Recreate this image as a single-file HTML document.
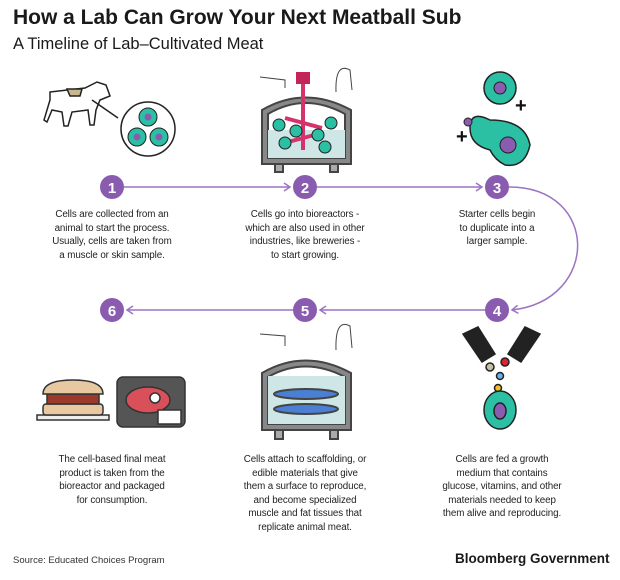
<!DOCTYPE html>
<html><head><meta charset="utf-8"><style>
body{margin:0;background:#fff;width:620px;height:580px;overflow:hidden;font-family:"Liberation Sans",sans-serif;color:#222;position:relative}
.t{position:absolute;font-size:9.8px;line-height:13.6px;text-align:center;white-space:nowrap;width:200px;letter-spacing:-0.1px}
</style></head><body>
<div style="position:absolute;left:13px;top:6px;font-size:21px;font-weight:bold;color:#1a1a1a">How a Lab Can Grow Your Next Meatball Sub</div>
<div style="position:absolute;left:13px;top:35px;font-size:16.5px;color:#1a1a1a">A Timeline of Lab–Cultivated Meat</div>
<svg width="620" height="580" style="position:absolute;left:0;top:0">
<defs><marker id="a" markerWidth="10" markerHeight="10" refX="8" refY="5" orient="auto" markerUnits="userSpaceOnUse"><path d="M2,1 L8,5 L2,9" fill="none" stroke="#9b74c4" stroke-width="1.5"/></marker></defs>
<g stroke="#9b74c4" stroke-width="1.5" fill="none">
<line x1="124" y1="187" x2="290" y2="187" marker-end="url(#a)"/>
<line x1="317" y1="187" x2="482" y2="187" marker-end="url(#a)"/>
<path d="M509,187 C600,187 600,300 512,310" marker-end="url(#a)"/>
<line x1="485" y1="310" x2="320" y2="310" marker-end="url(#a)"/>
<line x1="293" y1="310" x2="127" y2="310" marker-end="url(#a)"/>
</g>
<g fill="#8a5cb0"><circle cx="112" cy="187" r="12"/><circle cx="305" cy="187" r="12"/><circle cx="497" cy="187" r="12"/><circle cx="497" cy="310" r="12"/><circle cx="305" cy="310" r="12"/><circle cx="112" cy="310" r="12"/></g>
<g fill="#fff" font-size="15" font-weight="bold" text-anchor="middle" font-family="Liberation Sans,sans-serif">
<text x="112" y="193">1</text><text x="305" y="193">2</text><text x="497" y="193">3</text><text x="497" y="316">4</text><text x="305" y="316">5</text><text x="112" y="316">6</text></g>
<!-- cow -->
<g stroke="#222" stroke-width="1.5" fill="#fff">
<path d="M50,92 L85,88 L97,82 L106,85 L110,96 L100,100 L96,110 L94,125 L90,125 L88,110 L72,112 L68,126 L64,126 L62,112 L52,110 L47,122 L44,120 L50,100Z"/>
<path d="M67,89 L82,89 L80,96 L70,96Z" fill="#c8b890"/>
<line x1="92" y1="100" x2="118" y2="118"/>
<circle cx="148" cy="129" r="27"/></g>
<g fill="#2bbfa4" stroke="#222"><circle cx="148" cy="117" r="9"/><circle cx="137" cy="137" r="9"/><circle cx="159" cy="137" r="9"/></g>
<g fill="#8a5cb0"><circle cx="148" cy="117" r="3.5"/><circle cx="137" cy="137" r="3.5"/><circle cx="159" cy="137" r="3.5"/></g>
<!-- bioreactor 1 -->
<g stroke="#444" stroke-width="2">
<path d="M262,164 L262,110 Q305,85 351,110 L351,164Z" fill="#888"/>
<path d="M268,158 L268,114 Q305,92 345,114 L345,158Z" fill="#fff"/>
<rect x="268" y="130" width="77" height="28" fill="#cfe6e6" stroke="none"/>
<rect x="275" y="164" width="8" height="8" fill="#aaa"/><rect x="330" y="164" width="8" height="8" fill="#aaa"/>
<path d="M260,77 L285,80 L285,88 M336,92 Q335,62 350,70 L352,90" fill="none" stroke-width="1"/>
</g>
<rect x="296" y="72" width="14" height="12" fill="#c2255c"/>
<g stroke="#d6336c" stroke-width="4"><line x1="303" y1="84" x2="303" y2="150"/><line x1="285" y1="118" x2="322" y2="128"/><line x1="288" y1="142" x2="318" y2="134"/></g>
<g fill="#2bbfa4" stroke="#222"><circle cx="279" cy="125" r="6"/><circle cx="296" cy="131" r="6"/><circle cx="285" cy="143" r="6"/><circle cx="331" cy="123" r="6"/><circle cx="318" cy="135" r="6"/><circle cx="325" cy="147" r="6"/></g>
<!-- cells 3 -->
<g fill="#2bbfa4" stroke="#222" stroke-width="1.5">
<circle cx="500" cy="88" r="16"/>
<path d="M470,128 Q470,110 490,120 Q525,120 530,145 Q525,168 505,165 Q495,160 490,150 Q470,145 470,128Z"/></g>
<g fill="#8a5cb0" stroke="#222"><circle cx="500" cy="88" r="6"/><circle cx="468" cy="122" r="4"/><circle cx="508" cy="145" r="8"/></g>
<g font-size="20" font-weight="bold" fill="#111" font-family="Liberation Sans,sans-serif"><text x="515" y="112">+</text><text x="456" y="143">+</text></g>
<!-- bioreactor 2 -->
<g stroke="#444" stroke-width="2" transform="translate(0,-22)">
<path d="M262,452 L262,395 Q305,370 351,395 L351,452Z" fill="#888"/>
<path d="M268,446 L268,399 Q305,378 345,399 L345,446Z" fill="#fff"/>
<rect x="268" y="398" width="77" height="48" fill="#cfe6e6" stroke="none"/>
<rect x="275" y="452" width="8" height="9" fill="#aaa"/><rect x="330" y="452" width="8" height="9" fill="#aaa"/>
<path d="M260,356 L285,358 L285,368 M336,372 Q335,340 350,348 L352,370" fill="none" stroke-width="1"/>
<ellipse cx="306" cy="416" rx="32" ry="5" fill="#4a7fd4"/><ellipse cx="306" cy="431" rx="32" ry="5" fill="#4a7fd4"/>
</g>
<!-- pills 4 -->
<g stroke="#222" stroke-width="1.5" transform="translate(0,-18)">
<path d="M463,352 L478,345 L495,372 L482,380Z" fill="#222"/><path d="M540,352 L525,345 L508,372 L521,380Z" fill="#222"/>
<circle cx="490" cy="385" r="4" fill="#c8c0a0"/><circle cx="505" cy="380" r="4" fill="#d23"/><circle cx="500" cy="394" r="3.5" fill="#6ab0e8"/><circle cx="498" cy="406" r="3.5" fill="#f0c020"/>
<ellipse cx="500" cy="428" rx="16" ry="19" fill="#2bbfa4"/><ellipse cx="500" cy="429" rx="6" ry="8" fill="#8a5cb0"/></g>
<!-- sandwich and meat -->
<g stroke="#333" stroke-width="1.5" transform="translate(3,-28)">
<rect x="34" y="443" width="72" height="5" fill="#eee"/>
<rect x="40" y="432" width="60" height="11" rx="3" fill="#e8c8a0"/>
<rect x="44" y="422" width="52" height="10" fill="#9b3a2a"/>
<path d="M40,422 Q40,408 70,408 Q100,408 100,422Z" fill="#e8c8a0"/></g>
<g stroke="#333" stroke-width="1.5">
<rect x="117" y="377" width="68" height="50" rx="6" fill="#555"/>
<ellipse cx="148" cy="400" rx="22" ry="13" fill="#d9505a"/>
<circle cx="155" cy="398" r="5" fill="#fff"/>
<rect x="158" y="410" width="23" height="14" fill="#fff"/></g>
</svg>
<div class="t" style="left:12px;top:208px">Cells are collected from an<br>animal to start the process.<br>Usually, cells are taken from<br>a muscle or skin sample.</div>
<div class="t" style="left:205px;top:208px">Cells go into bioreactors -<br>which are also used in other<br>industries, like breweries -<br>to start growing.</div>
<div class="t" style="left:397px;top:208px">Starter cells begin<br>to duplicate into a<br>larger sample.</div>
<div class="t" style="left:12px;top:453px">The cell-based final meat<br>product is taken from the<br>bioreactor and packaged<br>for consumption.</div>
<div class="t" style="left:205px;top:453px">Cells attach to scaffolding, or<br>edible materials that give<br>them a surface to reproduce,<br>and become specialized<br>muscle and fat tissues that<br>replicate animal meat.</div>
<div class="t" style="left:402px;top:453px">Cells are fed a growth<br>medium that contains<br>glucose, vitamins, and other<br>materials needed to keep<br>them alive and reproducing.</div>
<div style="position:absolute;left:13px;top:555px;font-size:9.5px;color:#333">Source: Educated Choices Program</div>
<div style="position:absolute;left:455px;top:551px;font-size:13.5px;font-weight:bold;color:#1a1a1a">Bloomberg Government</div>
</body></html>
